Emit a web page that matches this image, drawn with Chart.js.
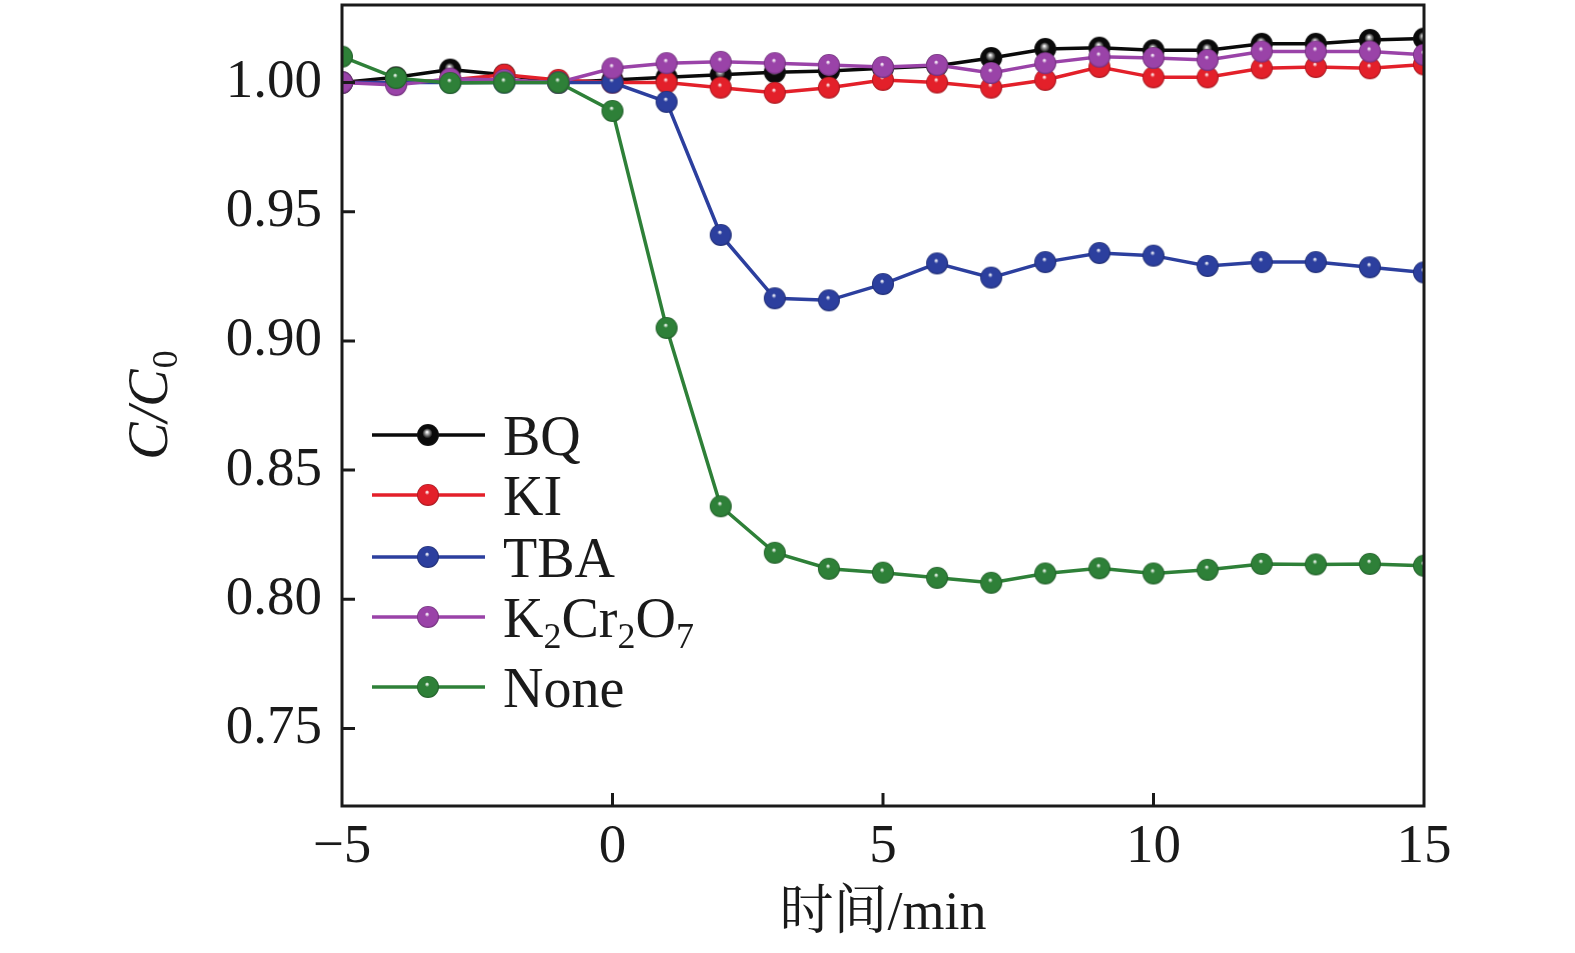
<!DOCTYPE html>
<html>
<head>
<meta charset="utf-8">
<script src="https://cdn.jsdelivr.net/npm/chart.js@4.4.1/dist/chart.umd.min.js"></script>
<style>
  html, body { margin: 0; padding: 0; background: #ffffff; }
  canvas { display: block; }
</style>
</head>
<body>
<canvas id="c" width="1575" height="953"></canvas>
<script>
// ---------- data ----------
const timeMin = [-5, -4, -3, -2, -1, 0, 1, 2, 3, 4, 5, 6, 7, 8, 9, 10, 11, 12, 13, 14, 15];
const seriesBQ   = [1.000, 1.002, 1.005, 1.003, 1.000, 1.001, 1.002, 1.003, 1.004, 1.0045, 1.0055, 1.0065, 1.0095, 1.013, 1.0135, 1.0125, 1.0125, 1.015, 1.015, 1.0165, 1.017];
const seriesKI   = [1.000, 1.000, 1.001, 1.003, 1.001, 1.000, 1.000, 0.998, 0.996, 0.998, 1.001, 1.000, 0.998, 1.001, 1.006, 1.002, 1.002, 1.0055, 1.006, 1.0055, 1.007];
const seriesTBA  = [1.000, 1.000, 1.000, 1.000, 1.000, 1.000, 0.9925, 0.941, 0.9165, 0.9157, 0.922, 0.930, 0.9245, 0.9305, 0.934, 0.933, 0.929, 0.9305, 0.9305, 0.9285, 0.9265];
const seriesK2Cr2O7 = [1.000, 0.999, 1.0015, 1.001, 1.000, 1.0055, 1.0075, 1.008, 1.0075, 1.0068, 1.006, 1.0068, 1.0037, 1.0075, 1.010, 1.0095, 1.0087, 1.012, 1.012, 1.012, 1.0107];
const seriesNone = [1.010, 1.0017, 0.9998, 1.000, 1.000, 0.989, 0.905, 0.836, 0.818, 0.8118, 0.8103, 0.8083, 0.8064, 0.810, 0.812, 0.810, 0.8114, 0.8137, 0.8135, 0.8137, 0.813];
const seriesNames = ['BQ', 'KI', 'TBA', 'K2Cr2O7', 'None'];
const xTickValues = [-5, 0, 5, 10, 15];
const yTickValues = [0.75, 0.80, 0.85, 0.90, 0.95, 1.00];
const xTitle = '时间/min';

// ---------- styles ----------
const colors = ['#0a0a0a', '#e3202a', '#2c3f9e', '#9a43a8', '#2e8038'];
const FONT = '"Liberation Serif", "Times New Roman", "Noto Serif CJK SC", "Noto Sans CJK SC", serif';
const TEXT = '#1a1a1a';

function shade(hex, f) {
  const n = parseInt(hex.slice(1), 16);
  const r = Math.round(((n >> 16) & 255) * f), g = Math.round(((n >> 8) & 255) * f), b = Math.round((n & 255) * f);
  return `rgb(${r},${g},${b})`;
}
function makeSphere(color, r) {
  const c = document.createElement('canvas');
  const s = r * 2 + 2;
  c.width = s; c.height = s;
  const g = c.getContext('2d');
  const cx = s / 2, cy = s / 2;
  const grad = g.createRadialGradient(cx - 1, cy - 3, 0.3, cx, cy, r);
  grad.addColorStop(0, '#ffffff');
  grad.addColorStop(0.2, color === '#0a0a0a' ? '#8a8a8a' : color);
  grad.addColorStop(0.45, color);
  grad.addColorStop(0.85, color);
  grad.addColorStop(1, shade(color === '#0a0a0a' ? '#202020' : color, 0.7));
  g.fillStyle = grad;
  g.beginPath(); g.arc(cx, cy, r, 0, Math.PI * 2); g.fill();
  return c;
}
const sprites = colors.map(c => makeSphere(c, 11));

const allSeries = [seriesBQ, seriesKI, seriesTBA, seriesK2Cr2O7, seriesNone];
const datasets = allSeries.map((vals, i) => ({
  label: seriesNames[i],
  data: timeMin.map((t, j) => ({ x: t, y: vals[j] })),
  borderColor: colors[i],
  backgroundColor: colors[i],
  borderWidth: 3.5,
  pointStyle: sprites[i],
  pointRadius: 11,
  pointHoverRadius: 11,
  tension: 0,
  clip: 0,
  order: allSeries.length - i
}));

function noPad(scale) {
  scale.paddingTop = 0; scale.paddingBottom = 0;
  scale.paddingLeft = 0; scale.paddingRight = 0;
}

// ---------- plugins ----------
const bgPlugin = {
  id: 'bg',
  beforeDraw(chart) {
    const ctx = chart.ctx;
    ctx.save(); ctx.fillStyle = '#ffffff';
    ctx.fillRect(0, 0, chart.width, chart.height); ctx.restore();
  }
};

const framePlugin = {
  id: 'frame',
  afterDraw(chart) {
    const { ctx, chartArea: a, scales: { x, y } } = chart;
    ctx.save();
    ctx.strokeStyle = TEXT;
    ctx.lineWidth = 3;
    ctx.strokeRect(a.left, a.top, a.right - a.left, a.bottom - a.top);
    ctx.beginPath();
    xTickValues.forEach(v => {
      const px = x.getPixelForValue(v);
      if (px > a.left + 2 && px < a.right - 2) { ctx.moveTo(px, a.bottom); ctx.lineTo(px, a.bottom - 13); }
    });
    yTickValues.forEach(v => {
      const py = y.getPixelForValue(v);
      ctx.moveTo(a.left, py); ctx.lineTo(a.left + 13, py);
    });
    ctx.stroke();

    // y-axis title: C/C0 (italic C, subscript 0)
    const main = 'italic 56px ' + FONT;
    const sub = '36px ' + FONT;
    ctx.font = main;
    const w1 = ctx.measureText('C/C').width;
    ctx.font = sub;
    const w2 = ctx.measureText('0').width;
    const total = w1 + w2;
    const cy = (a.top + a.bottom) / 2;
    ctx.translate(167, cy + total / 2);
    ctx.rotate(-Math.PI / 2);
    ctx.fillStyle = TEXT;
    ctx.textBaseline = 'alphabetic';
    ctx.textAlign = 'left';
    ctx.font = main;
    ctx.fillText('C/C', 0, 0);
    ctx.font = sub;
    ctx.fillText('0', w1 + 1, 10);
    ctx.restore();

    // legend
    const rows = [435, 495, 557, 617, 687];
    ctx.save();
    seriesNames.forEach((name, i) => {
      const ly = rows[i];
      ctx.strokeStyle = colors[i];
      ctx.lineWidth = 3.5;
      ctx.beginPath(); ctx.moveTo(372, ly); ctx.lineTo(485, ly); ctx.stroke();
      const sp = sprites[i];
      ctx.drawImage(sp, 428 - sp.width / 2, ly - sp.height / 2);
      ctx.fillStyle = TEXT;
      ctx.textBaseline = 'alphabetic';
      ctx.textAlign = 'left';
      const base = ly + 20;
      if (name === 'K2Cr2O7') {
        const parts = [['K', 0], ['2', 1], ['Cr', 0], ['2', 1], ['O', 0], ['7', 1]];
        let px = 503;
        parts.forEach(([t, s]) => {
          ctx.font = s ? '36px ' + FONT : '56px ' + FONT;
          ctx.fillText(t, px, s ? base + 11 : base);
          px += ctx.measureText(t).width;
        });
      } else {
        ctx.font = '56px ' + FONT;
        ctx.fillText(name, 503, base);
      }
    });
    ctx.restore();
  }
};

new Chart(document.getElementById('c'), {
  type: 'line',
  data: { datasets },
  plugins: [bgPlugin, framePlugin],
  options: {
    responsive: false,
    animation: false,
    devicePixelRatio: 1,
    layout: { autoPadding: false, padding: { left: 0, top: 5, right: 151, bottom: 0 } },
    plugins: { legend: { display: false }, tooltip: { enabled: false } },
    scales: {
      x: {
        type: 'linear',
        min: -5, max: 15,
        afterFit(scale) { scale.height = 147; noPad(scale); },
        afterBuildTicks(scale) { scale.ticks = xTickValues.map(v => ({ value: v })); },
        grid: { display: false, drawTicks: false },
        border: { display: false },
        ticks: {
          color: TEXT, padding: 14,
          font: { family: FONT, size: 55, lineHeight: 1 },
          maxRotation: 0, autoSkip: false,
          callback: v => (v < 0 ? '\u2212' + Math.abs(v) : String(v))
        },
        title: {
          display: true, text: xTitle, color: TEXT,
          font: { family: FONT, size: 54, lineHeight: 1.2 },
          padding: { top: 0, bottom: 6 }
        }
      },
      y: {
        type: 'linear',
        min: 0.72, max: 1.03,
        afterFit(scale) { scale.width = 342; noPad(scale); },
        afterBuildTicks(scale) { scale.ticks = yTickValues.map(v => ({ value: v })); },
        grid: { display: false, drawTicks: false },
        border: { display: false },
        ticks: {
          color: TEXT, padding: 20,
          font: { family: FONT, size: 55, lineHeight: 1 },
          autoSkip: false,
          callback: v => Number(v).toFixed(2)
        }
      }
    }
  }
});
</script>
</body>
</html>
